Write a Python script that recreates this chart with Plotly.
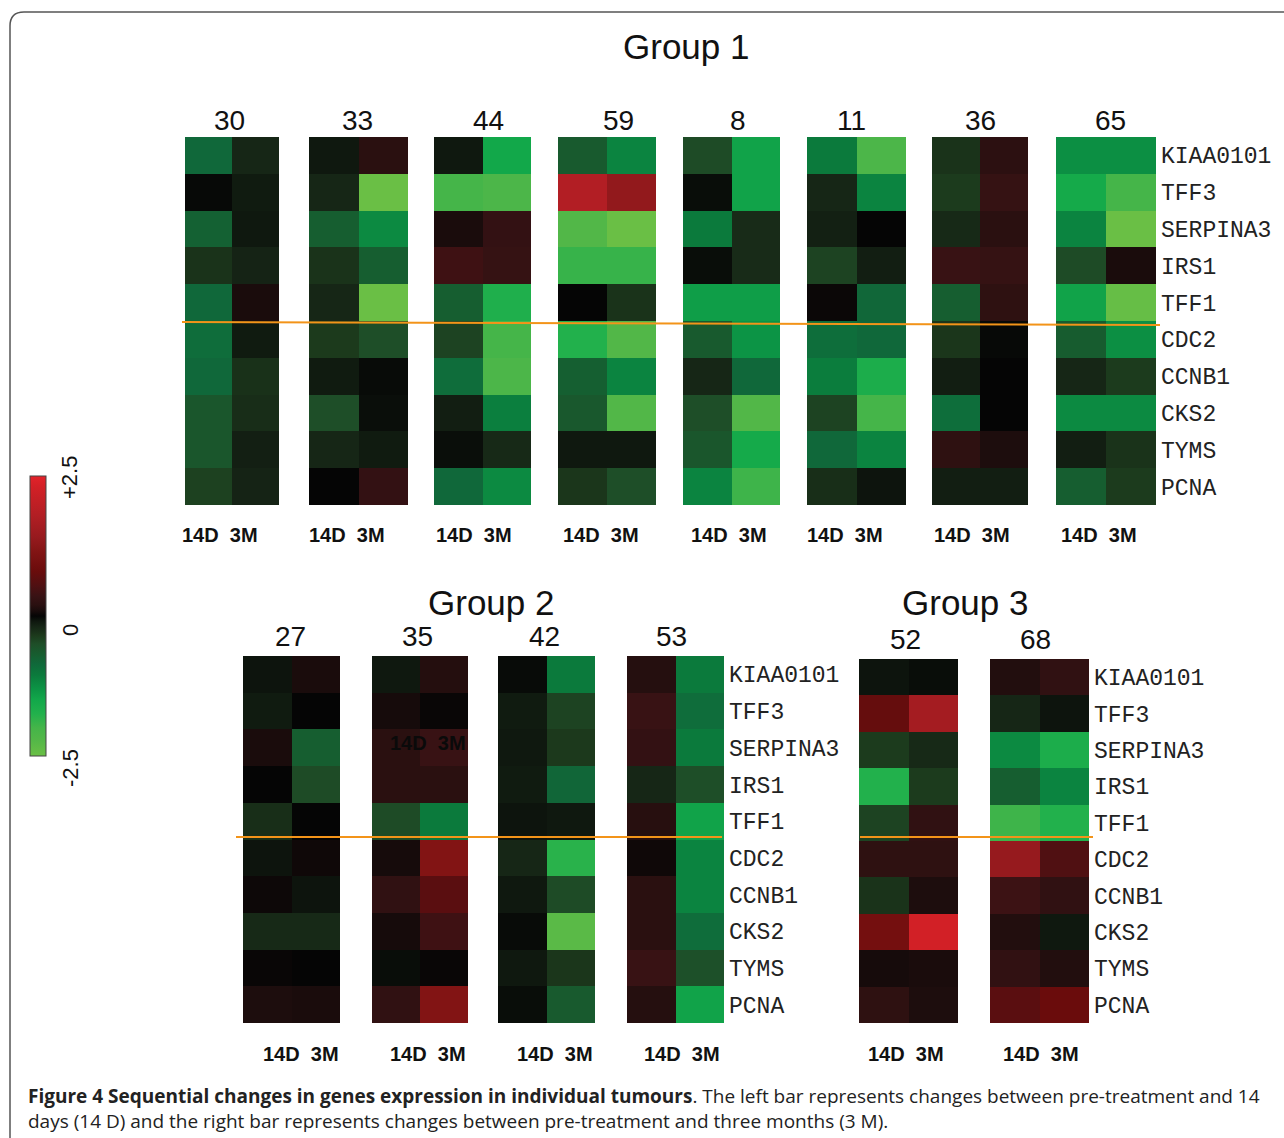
import plotly.graph_objects as go

W, H = 1284, 1138

GENES = ["KIAA0101", "TFF3", "SERPINA3", "IRS1", "TFF1",
         "CDC2", "CCNB1", "CKS2", "TYMS", "PCNA"]
TIMEPOINTS = ["14D", "3M"]

T30_14D = [-0.85, -0.02, -0.75, -0.30, -0.85, -0.90, -0.85, -0.60, -0.60, -0.40]
T30_3M  = [-0.20, -0.12, -0.10, -0.18,  0.10, -0.12, -0.28, -0.25, -0.15, -0.18]
T33_14D = [-0.10, -0.20, -0.70, -0.30, -0.20, -0.35, -0.12, -0.50, -0.20,  0.00]
T33_3M  = [ 0.20, -2.50, -1.20, -0.70, -2.50, -0.50, -0.03, -0.05, -0.12,  0.30]
T44_14D = [-0.10, -2.00,  0.10,  0.40, -0.70, -0.42, -0.90, -0.14, -0.05, -0.85]
T44_3M  = [-1.50, -2.10,  0.30,  0.32, -1.70, -2.00, -2.10, -1.10, -0.22, -1.20]
T59_14D = [-0.65,  1.80, -2.20, -1.90,  0.00, -1.75, -0.72, -0.62, -0.10, -0.32]
T59_3M  = [-1.15,  1.35, -2.50, -1.90, -0.30, -2.20, -1.15, -2.20, -0.10, -0.50]
T8_14D  = [-0.48, -0.04, -1.05, -0.04, -1.40, -0.65, -0.20, -0.50, -0.60, -1.15]
T8_3M   = [-1.45, -1.45, -0.24, -0.24, -1.40, -1.30, -0.85, -2.20, -1.55, -1.95]
T11_14D = [-1.05, -0.20, -0.16, -0.42,  0.03, -0.92, -1.08, -0.42, -0.85, -0.26]
T11_3M  = [-2.10, -1.15,  0.00, -0.14, -0.83, -0.85, -1.65, -2.00, -1.15, -0.08]
T36_14D = [-0.30, -0.36, -0.22,  0.35, -0.70, -0.32, -0.14, -0.92,  0.24, -0.14]
T36_3M  = [ 0.22,  0.32,  0.20,  0.32,  0.24, -0.02,  0.00,  0.00,  0.12, -0.14]
T65_14D = [-1.25, -1.55, -1.15, -0.48, -1.45, -0.68, -0.20, -1.20, -0.14, -0.70]
T65_3M  = [-1.25, -2.00, -2.50,  0.10, -2.45, -1.25, -0.36, -1.20, -0.30, -0.36]

# ---- Group 2 ----
T27_14D = [-0.08, -0.12,  0.10,  0.00, -0.26, -0.08,  0.04, -0.22,  0.02,  0.12]
T27_3M  = [ 0.10,  0.00, -0.70, -0.48,  0.00,  0.05, -0.08, -0.22,  0.00,  0.10]
T35_14D = [-0.10,  0.08,  0.20,  0.20, -0.48,  0.08,  0.26,  0.08, -0.04,  0.26]
T35_3M  = [ 0.16,  0.02,  0.35,  0.20, -1.05,  1.15,  0.65,  0.40,  0.02,  1.15]
T42_14D = [-0.03, -0.12, -0.10, -0.12, -0.08, -0.20, -0.10, -0.03, -0.10, -0.04]
T42_3M  = [-1.05, -0.42, -0.34, -0.82, -0.10, -1.80, -0.48, -2.30, -0.32, -0.65]
T53_14D = [ 0.17,  0.35,  0.30, -0.20,  0.18,  0.05,  0.20,  0.20,  0.35,  0.17]
T53_3M  = [-1.05, -0.90, -1.05, -0.50, -1.45, -1.15, -1.15, -0.90, -0.52, -1.45]

# ---- Group 3 ----
T52_14D = [-0.08,  0.75, -0.36, -1.75, -0.42,  0.24, -0.30,  0.95,  0.08,  0.24]
T52_3M  = [-0.04,  1.60, -0.22, -0.36,  0.26,  0.24,  0.12,  2.30,  0.10,  0.12]
T68_14D = [ 0.15, -0.20, -1.20, -0.70, -1.95,  1.40,  0.38,  0.15,  0.28,  0.65]
T68_3M  = [ 0.26, -0.08, -1.65, -1.15, -1.75,  0.55,  0.26, -0.10,  0.15,  0.80]

GROUP_TITLES = ["Group 1", "Group 2", "Group 3"]
TUMOURS = ["30", "33", "44", "59", "8", "11", "36", "65",
           "27", "35", "42", "53", "52", "68"]
SERIES = {
    "30": (T30_14D, T30_3M), "33": (T33_14D, T33_3M), "44": (T44_14D, T44_3M),
    "59": (T59_14D, T59_3M), "8": (T8_14D, T8_3M), "11": (T11_14D, T11_3M),
    "36": (T36_14D, T36_3M), "65": (T65_14D, T65_3M),
    "27": (T27_14D, T27_3M), "35": (T35_14D, T35_3M), "42": (T42_14D, T42_3M),
    "53": (T53_14D, T53_3M), "52": (T52_14D, T52_3M), "68": (T68_14D, T68_3M),
}
COLORBAR_TICKS = ["+2.5", "0", "-2.5"]

# ---------------- layout (pixels) ----------------
PANEL_PX = {
    "30": (185, 279, 137, 505), "33": (309, 408, 137, 505),
    "44": (434, 531, 137, 505), "59": (558, 656, 137, 505),
    "8": (683, 780, 137, 505), "11": (807, 906, 137, 505),
    "36": (932, 1028, 137, 505), "65": (1056, 1156, 137, 505),
    "27": (243, 340, 656, 1023), "35": (372, 468, 656, 1023),
    "42": (498, 595, 656, 1023), "53": (627, 724, 656, 1023),
    "52": (859, 958, 659, 1023), "68": (990, 1089, 659, 1023),
}
NUM_PX = {
    "30": (229, 121), "33": (358, 121), "44": (488, 121), "59": (618, 121),
    "8": (738, 121), "11": (851, 121), "36": (980, 121), "65": (1110, 121),
    "27": (290, 636), "35": (417, 636), "42": (544, 636), "53": (671, 636),
    "52": (905, 639), "68": (1035, 639),
}
TP_PX = {
    "30": (220, 535), "33": (347, 535), "44": (474, 535), "59": (601, 535),
    "8": (729, 535), "11": (845, 535), "36": (972, 535), "65": (1099, 535),
    "27": (301, 1054), "35": (428, 1054), "42": (555, 1054), "53": (682, 1054),
    "52": (906, 1054), "68": (1041, 1054),
}
LABELLED = {"65", "53", "68"}
TITLE_PX = [(686, 47), (491, 602), (965, 602)]


def px(x):
    return x / W


def py(y):
    return 1 - y / H


COLORSCALE = [
    [0.00, "#6abf45"], [0.06, "#52b748"], [0.10, "#45b549"], [0.15, "#22b14c"],
    [0.20, "#12a84a"], [0.24, "#0c9445"], [0.29, "#0b7a3c"], [0.33, "#10683a"],
    [0.36, "#165e30"], [0.40, "#1e4e28"], [0.43, "#1c3a1c"], [0.46, "#162616"],
    [0.48, "#0f180f"], [0.50, "#050505"], [0.52, "#1a0c0c"], [0.54, "#2a1010"],
    [0.57, "#381214"], [0.61, "#501012"], [0.66, "#6a0c0c"], [0.73, "#821414"],
    [0.78, "#961a1e"], [0.86, "#b21e24"], [0.96, "#d22026"], [1.00, "#e3222a"],
]

fig = go.Figure()
layout_axes = {}
annotations = []

for i, t in enumerate(TUMOURS, start=1):
    a, b = SERIES[t]
    z = [[a[k], b[k]] for k in range(len(GENES))]
    sfx = "" if i == 1 else str(i)
    show_cb = (i == 1)
    fig.add_trace(go.Heatmap(
        z=z, x=TIMEPOINTS, y=GENES,
        colorscale=COLORSCALE, zmin=-2.5, zmax=2.5,
        xaxis="x" + sfx, yaxis="y" + sfx,
        showscale=show_cb,
        colorbar=dict(
            x=px(30), xanchor="left", xref="paper",
            y=py(476), yanchor="top", yref="paper",
            len=(756 - 476) / H, lenmode="fraction",
            thickness=16, thicknessmode="pixels",
            xpad=0, ypad=0, outlinewidth=1, outlinecolor="#444",
            showticklabels=False, ticks="",
        ) if show_cb else None,
        hovertemplate="%{y} %{x}: %{z}<extra>" + t + "</extra>",
    ))
    x0, x1, y0, y1 = PANEL_PX[t]
    layout_axes["xaxis" + sfx] = dict(
        domain=[px(x0), px(x1)], anchor="y" + sfx,
        showticklabels=False, showgrid=False, zeroline=False,
        showline=False, ticks="", fixedrange=True,
    )
    layout_axes["yaxis" + sfx] = dict(
        domain=[py(y1), py(y0)], anchor="x" + sfx,
        autorange="reversed", showgrid=False, zeroline=False,
        showline=False, ticks="", fixedrange=True,
        showticklabels=(t in LABELLED), side="right",
        ticklabelstandoff=4,
        tickfont=dict(family="Liberation Mono, Courier New, monospace",
                      size=23, color="#222"),
    )
    cx, cy = NUM_PX[t]
    annotations.append(dict(
        x=px(cx), y=py(cy), xref="paper", yref="paper", text=t,
        showarrow=False, xanchor="center", yanchor="middle",
        font=dict(family="Liberation Sans, Arial, sans-serif", size=28, color="#111"),
    ))
    cx, cy = TP_PX[t]
    annotations.append(dict(
        x=px(cx), y=py(cy), xref="paper", yref="paper",
        text="<b>14D\u00a0\u00a03M</b>",
        showarrow=False, xanchor="center", yanchor="middle",
        font=dict(family="Liberation Sans, Arial, sans-serif", size=20, color="#111"),
    ))

for title, (cx, cy) in zip(GROUP_TITLES, TITLE_PX):
    annotations.append(dict(
        x=px(cx), y=py(cy), xref="paper", yref="paper", text=title,
        showarrow=False, xanchor="center", yanchor="middle",
        font=dict(family="Liberation Sans, Arial, sans-serif", size=35, color="#111"),
    ))

# stray label overlaid on tumour 35
annotations.append(dict(
    x=px(428), y=py(743), xref="paper", yref="paper",
    text="<b>14D\u00a0\u00a03M</b>", showarrow=False,
    xanchor="center", yanchor="middle",
    font=dict(family="Liberation Sans, Arial, sans-serif", size=20, color="#0a0a0a"),
))

# colour bar labels
for lab, yy in zip(COLORBAR_TICKS, [478, 630, 768]):
    annotations.append(dict(
        x=px(70), y=py(yy), xref="paper", yref="paper", text=lab,
        textangle=-90, showarrow=False, xanchor="center", yanchor="middle",
        font=dict(family="Liberation Sans, Arial, sans-serif", size=22, color="#111"),
    ))

# caption
annotations.append(dict(
    x=px(26), y=py(1096), xref="paper", yref="paper",
    text="<b>Figure 4 Sequential changes in genes expression in individual tumours</b>. "
         "The left bar represents changes between pre-treatment and 14",
    showarrow=False, xanchor="left", yanchor="middle",
    font=dict(family="Open Sans, sans-serif", size=19, color="#222"),
))
annotations.append(dict(
    x=px(26), y=py(1121), xref="paper", yref="paper",
    text="days (14 D) and the right bar represents changes between pre-treatment "
         "and three months (3 M).",
    showarrow=False, xanchor="left", yanchor="middle",
    font=dict(family="Open Sans, sans-serif", size=19, color="#222"),
))

ORANGE = "#f39419"
shapes = [
    dict(type="line", xref="paper", yref="paper",
         x0=px(182), y0=py(322), x1=px(1160), y1=py(325),
         line=dict(color=ORANGE, width=2)),
    dict(type="line", xref="paper", yref="paper",
         x0=px(236), y0=py(837), x1=px(722), y1=py(837),
         line=dict(color=ORANGE, width=2)),
    dict(type="line", xref="paper", yref="paper",
         x0=px(860), y0=py(837), x1=px(1093), y1=py(837),
         line=dict(color=ORANGE, width=2)),
    dict(type="path", xref="paper", yref="paper",
         path=f"M {px(10)},{py(1140)} L {px(10)},{py(26)} "
              f"Q {px(10)},{py(12)} {px(24)},{py(12)} L {px(1290)},{py(12)}",
         line=dict(color="#555", width=1.5)),
]

fig.update_layout(
    width=W, height=H,
    margin=dict(l=0, r=0, t=0, b=0, pad=0),
    paper_bgcolor="white", plot_bgcolor="white",
    showlegend=False,
    annotations=annotations, shapes=shapes,
    **layout_axes,
)

fig.write_html("out.html",
               config={"displayModeBar": False},
               post_script="document.body.style.margin='0';"
                           "document.body.style.overflow='hidden';")
